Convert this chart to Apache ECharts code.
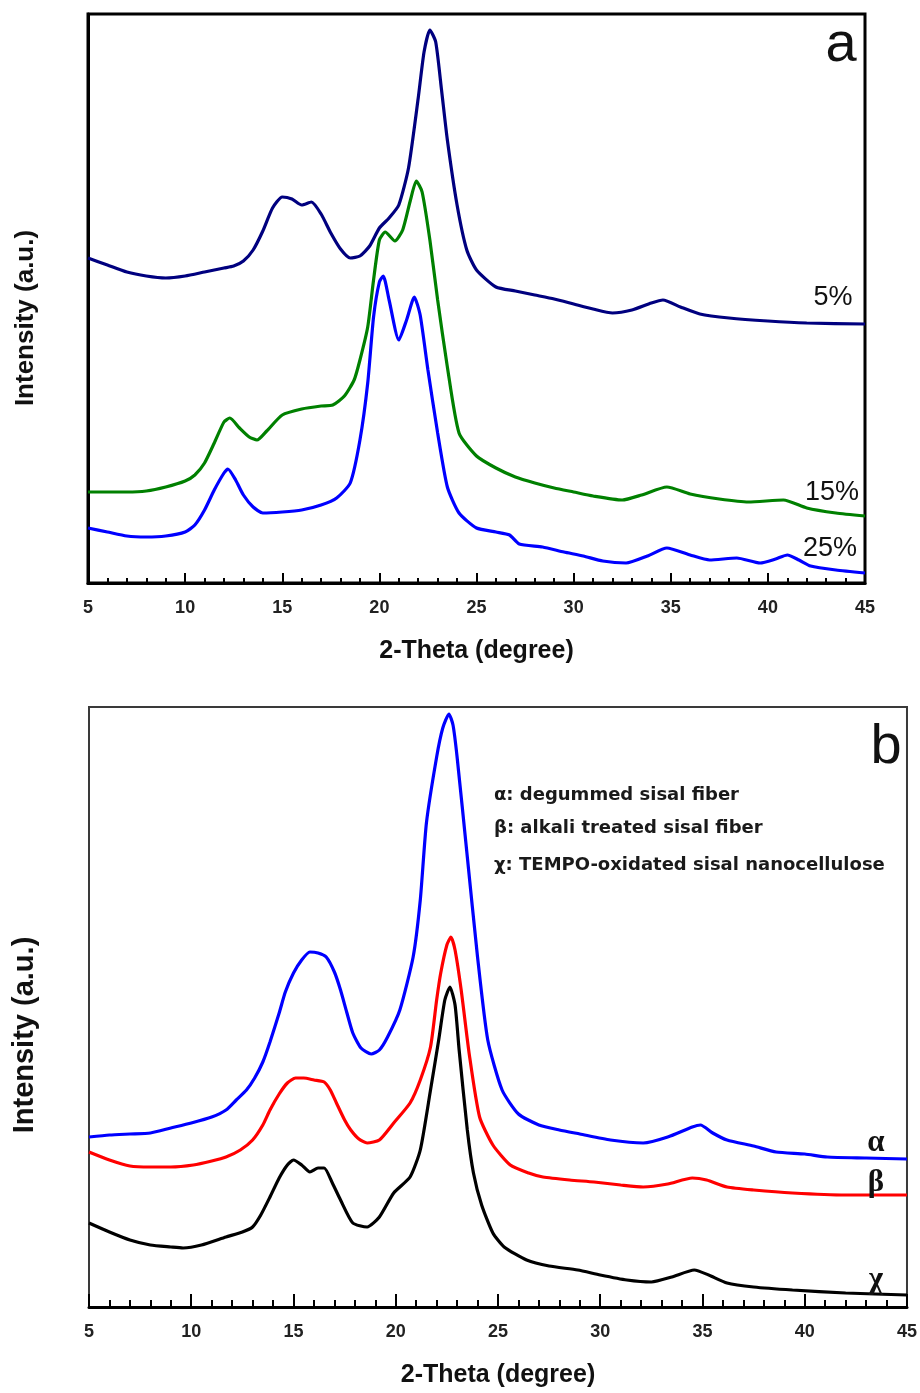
<!DOCTYPE html>
<html>
<head>
<meta charset="utf-8">
<script src="https://cdn.jsdelivr.net/npm/echarts@6.0.0/dist/echarts.min.js"></script>
<style>
  html, body { margin: 0; padding: 0; background: #ffffff; }
  #chart { width: 920px; height: 1393px; }
</style>
</head>
<body>
<div id="chart"></div>
<script>
// X-ray diffraction patterns, intensity in arbitrary units vs 2-theta (degree)

const thetaTicks = [5, 10, 15, 20, 25, 30, 35, 40, 45];

// Panel a: sisal nanocellulose at different oxidant loadings
const xrd5pct = [
  [5.0, 325], [6.0, 318], [7.0, 311], [8.0, 307], [9.0, 305], [10.0, 307], [11.0, 311],
  [12.0, 315], [12.5, 317], [13.0, 322], [13.5, 333], [14.0, 352], [14.5, 375], [15.0, 386],
  [15.5, 384], [16.0, 378], [16.5, 381], [17.0, 369], [17.5, 350], [18.0, 334], [18.5, 325],
  [19.0, 327], [19.5, 337], [20.0, 355], [20.5, 365], [21.0, 378], [21.5, 415], [22.0, 485],
  [22.3, 531], [22.6, 553], [22.9, 541], [23.2, 493], [23.5, 443], [24.0, 378], [24.5, 333],
  [25.0, 313], [26.0, 296], [27.0, 292], [28.0, 288], [29.0, 284], [30.0, 279], [31.0, 274],
  [32.0, 270], [33.0, 273], [34.0, 280], [34.6, 283], [35.5, 276], [36.5, 269], [38.0, 265],
  [40.0, 262], [42.0, 260], [45.0, 259]
];
const xrd15pct = [
  [5.0, 91], [6.0, 91], [7.0, 91], [8.0, 92], [9.0, 96], [10.0, 102], [10.5, 108], [11.0, 120],
  [11.5, 140], [12.0, 161], [12.3, 165], [12.8, 155], [13.3, 146], [13.7, 143], [14.2, 152],
  [15.0, 168], [16.0, 174], [17.0, 177], [17.6, 178], [18.2, 187], [18.7, 203], [19.0, 223],
  [19.4, 256], [19.7, 303], [20.0, 343], [20.3, 351], [20.8, 342], [21.2, 353], [21.6, 383],
  [21.9, 402], [22.2, 391], [22.6, 343], [23.0, 283], [23.5, 216], [24.1, 150], [25.0, 127],
  [26.0, 115], [27.0, 106], [28.0, 100], [29.0, 95], [30.0, 91], [31.0, 87], [32.5, 83],
  [33.5, 88], [34.8, 96], [36.0, 89], [37.5, 84], [39.0, 81], [40.8, 83], [42.0, 75],
  [43.5, 70], [45.0, 67]
];
const xrd25pct = [
  [5.0, 55], [6.0, 51], [7.0, 47], [8.0, 46], [9.0, 47], [10.0, 51], [10.5, 58], [11.0, 73],
  [11.5, 93], [12.0, 110], [12.2, 114], [12.6, 103], [13.0, 88], [13.5, 76], [14.0, 70],
  [15.0, 71], [16.0, 73], [17.0, 78], [17.8, 85], [18.5, 100], [19.0, 143], [19.4, 200],
  [19.7, 266], [20.0, 301], [20.2, 307], [20.5, 283], [21.0, 243], [21.4, 263], [21.8, 286],
  [22.1, 268], [22.5, 213], [23.0, 150], [23.5, 96], [24.1, 70], [25.0, 55], [26.0, 51],
  [26.7, 48], [27.2, 39], [28.4, 36], [29.5, 31], [30.5, 27], [31.5, 22], [32.7, 20],
  [33.8, 27], [34.8, 35], [36.0, 28], [37.0, 23], [38.4, 25], [39.6, 20], [40.4, 24],
  [41.0, 28], [41.6, 23], [42.2, 17], [43.5, 13], [45.0, 10]
];

// Panel b: degummed fiber, alkali treated fiber, TEMPO-oxidated nanocellulose
const xrdDegummed = [
  [5.0, 170], [6.0, 172], [7.0, 173], [8.0, 174], [9.0, 179], [10.0, 184], [11.0, 190],
  [11.7, 197], [12.2, 207], [12.7, 217], [13.1, 229], [13.5, 245], [13.85, 265], [14.3, 294],
  [14.6, 315], [15.0, 334], [15.4, 347], [15.8, 355], [16.2, 354], [16.6, 350], [17.0, 335],
  [17.3, 317], [17.6, 295], [17.9, 274], [18.3, 259], [18.8, 253], [19.2, 257], [19.6, 270],
  [20.2, 297], [20.85, 350], [21.2, 407], [21.5, 484], [22.0, 550], [22.3, 579], [22.6, 593],
  [22.8, 582], [23.0, 550], [23.5, 450], [24.0, 350], [24.5, 267], [25.2, 217], [26.0, 193],
  [27.0, 182], [28.0, 177], [29.0, 173], [30.5, 167], [32.1, 164], [33.3, 170], [34.5, 180],
  [34.9, 182], [35.5, 174], [36.2, 167], [37.5, 161], [38.6, 155], [40.0, 153], [41.1, 150],
  [43.0, 149], [45.0, 148]
];
const xrdAlkali = [
  [5.0, 155], [6.0, 147], [7.0, 141], [8.0, 140], [9.0, 140], [10.1, 142], [11.0, 146],
  [11.7, 150], [12.4, 157], [13.0, 167], [13.5, 182], [13.85, 197], [14.3, 213], [14.7, 224],
  [15.1, 229], [15.5, 229], [16.0, 227], [16.5, 225], [16.8, 217], [17.1, 204], [17.5, 187],
  [17.8, 177], [18.2, 168], [18.6, 164], [19.2, 167], [19.9, 184], [20.7, 204], [21.2, 227],
  [21.7, 260], [22.0, 307], [22.2, 334], [22.5, 362], [22.7, 370], [22.9, 357], [23.2, 317],
  [23.6, 252], [24.1, 190], [24.75, 162], [25.6, 142], [26.5, 134], [27.2, 130], [28.5, 127],
  [29.7, 125], [31.0, 122], [32.1, 120], [33.3, 123], [34.5, 129], [35.2, 127], [36.2, 120],
  [37.5, 117], [39.4, 114], [42.0, 112], [45.0, 112]
];
const xrdTempo = [
  [5.0, 84], [6.0, 75], [7.0, 67], [8.0, 62], [9.0, 60], [9.6, 59], [10.5, 62], [11.7, 70],
  [12.5, 75], [13.0, 80], [13.4, 92], [13.85, 110], [14.3, 129], [14.7, 142], [15.0, 147],
  [15.4, 142], [15.8, 135], [16.2, 139], [16.5, 139], [16.9, 124], [17.3, 107], [17.9, 84],
  [18.6, 80], [19.2, 90], [19.9, 114], [20.7, 130], [21.2, 157], [21.7, 217], [22.1, 267],
  [22.4, 307], [22.65, 320], [22.9, 302], [23.1, 257], [23.5, 177], [23.8, 134], [24.2, 102],
  [24.75, 74], [25.3, 60], [26.4, 47], [27.5, 41], [28.9, 37], [30.0, 32], [31.3, 27],
  [32.5, 25], [33.5, 30], [34.6, 37], [35.3, 32], [36.2, 24], [37.5, 20], [39.4, 17],
  [42.0, 14], [45.0, 12]
];

const legendLines = [
  'α: degummed sisal fiber',
  'β: alkali treated sisal fiber',
  'χ: TEMPO-oxidated sisal nanocellulose'
];

const sansFont = '"Liberation Sans", Arial, sans-serif';
const wideFont = '"DejaVu Sans", "Liberation Sans", sans-serif';
const narrowFont = '"Liberation Sans Narrow", "Liberation Sans", Arial, sans-serif';
const serifFont = '"Liberation Serif", "DejaVu Serif", serif';

function xAxisFor(gridIndex, lineWidth, majorLen, minorLen, labelMargin) {
  return {
    gridIndex: gridIndex,
    type: 'value',
    min: thetaTicks[0],
    max: thetaTicks[thetaTicks.length - 1],
    interval: thetaTicks[1] - thetaTicks[0],
    name: '2-Theta (degree)',
    nameLocation: 'middle',
    nameGap: 56,
    nameTextStyle: { fontFamily: sansFont, fontWeight: 'bold', fontSize: 25, color: '#111' },
    axisLine: { show: true, onZero: false, lineStyle: { color: '#000', width: lineWidth } },
    axisTick: { show: true, inside: true, length: majorLen, lineStyle: { color: '#000', width: 2 } },
    minorTick: { show: true, splitNumber: 5, length: minorLen, lineStyle: { color: '#000', width: 2 } },
    axisLabel: {
      show: true, margin: labelMargin, showMinLabel: true, showMaxLabel: true,
      fontFamily: sansFont, fontWeight: 'bold', fontSize: 18, color: '#222'
    },
    splitLine: { show: false }
  };
}

function yAxisFor(gridIndex, maxVal, lineWidth, color) {
  return {
    gridIndex: gridIndex,
    type: 'value',
    min: 0,
    max: maxVal,
    axisLine: { show: true, lineStyle: { color: color, width: lineWidth } },
    axisTick: { show: false },
    axisLabel: { show: false },
    splitLine: { show: false }
  };
}

function pattern(name, data, color, gridIndex, tag, tagPos, tagFont) {
  return {
    name: name,
    type: 'line',
    xAxisIndex: gridIndex,
    yAxisIndex: gridIndex,
    data: data,
    showSymbol: false,
    smooth: 0.2,
    lineStyle: { color: color, width: 3.2 },
    itemStyle: { color: color },
    z: 3,
    markPoint: {
      silent: true,
      symbol: 'circle',
      symbolSize: 0,
      data: [{ name: tag, coord: tagPos }],
      label: {
        show: true, position: 'inside', formatter: '{b}',
        fontFamily: tagFont.family, fontSize: tagFont.size, fontWeight: tagFont.weight || 'normal', color: '#111'
      }
    }
  };
}

const chart = echarts.init(document.getElementById('chart'), null, { renderer: 'canvas' });

const option = {
  backgroundColor: '#ffffff',
  animation: false,
  grid: [
    { left: 88, top: 14, width: 777, height: 569, show: true, borderColor: '#000', borderWidth: 3, backgroundColor: 'transparent' },
    { left: 89, top: 707, width: 818, height: 600, show: true, borderColor: '#3a3a3a', borderWidth: 2, backgroundColor: 'transparent' }
  ],
  xAxis: [
    xAxisFor(0, 3, 10, 5, 16),
    xAxisFor(1, 3, 13, 7, 16)
  ],
  yAxis: [
    yAxisFor(0, 569, 3, '#000'),
    yAxisFor(1, 600, 2, '#3a3a3a')
  ],
  series: [
    pattern('5%', xrd5pct, '#00007f', 0, '5%', [43.35, 285], { family: narrowFont, size: 27 }),
    pattern('15%', xrd15pct, '#008000', 0, '15%', [43.3, 90], { family: narrowFont, size: 27 }),
    pattern('25%', xrd25pct, '#0000ff', 0, '25%', [43.2, 34], { family: narrowFont, size: 27 }),
    pattern('α', xrdDegummed, '#0000ff', 1, 'α', [43.48, 164], { family: serifFont, size: 31, weight: 'bold' }),
    pattern('β', xrdAlkali, '#ff0000', 1, 'β', [43.48, 124], { family: serifFont, size: 31, weight: 'bold' }),
    pattern('χ', xrdTempo, '#000000', 1, 'χ', [43.48, 27], { family: serifFont, size: 31, weight: 'bold' })
  ],
  graphic: [
    {
      type: 'text', x: 26, y: 318, rotation: Math.PI / 2,
      style: { text: 'Intensity (a.u.)', fontFamily: sansFont, fontWeight: 'bold', fontSize: 26, fill: '#111', align: 'center', verticalAlign: 'middle' }
    },
    {
      type: 'text', x: 25, y: 1035, rotation: Math.PI / 2,
      style: { text: 'Intensity (a.u.)', fontFamily: sansFont, fontWeight: 'bold', fontSize: 29, fill: '#111', align: 'center', verticalAlign: 'middle' }
    },
    {
      type: 'text', x: 841, y: 46,
      style: { text: 'a', fontFamily: sansFont, fontSize: 56, fill: '#111', align: 'center', verticalAlign: 'middle' }
    },
    {
      type: 'text', x: 886, y: 748,
      style: { text: 'b', fontFamily: sansFont, fontSize: 56, fill: '#111', align: 'center', verticalAlign: 'middle' }
    },
    {
      type: 'group', x: 494, y: 795,
      children: legendLines.map(function (line, i) {
        return {
          type: 'text', x: 0, y: [0, 33, 70][i],
          style: { text: line, fontFamily: wideFont, fontWeight: 'bold', fontSize: 18, fill: '#1a1a1a', align: 'left', verticalAlign: 'middle' }
        };
      })
    }
  ]
};

chart.setOption(option);
</script>
</body>
</html>
